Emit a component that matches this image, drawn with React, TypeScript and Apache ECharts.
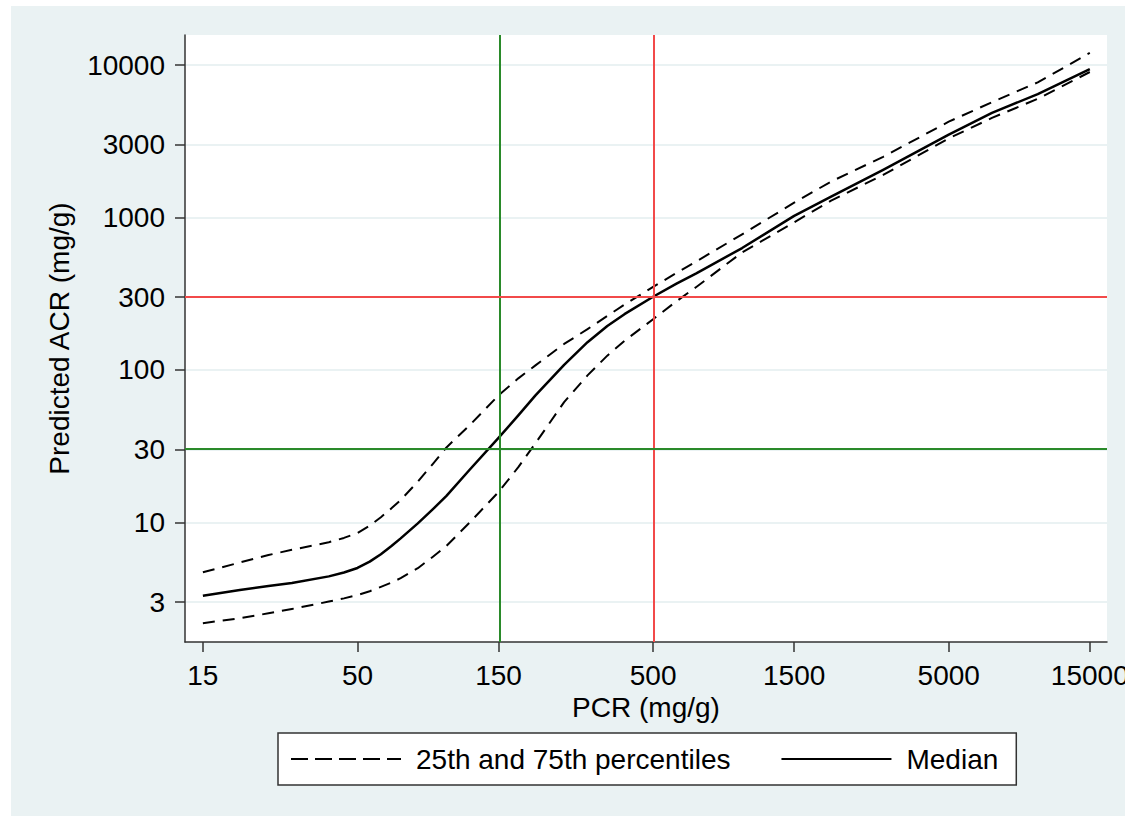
import React, { useEffect, useRef } from "react";
import * as echarts from "echarts";

// PCR (mg/g) sample points along the fitted curves
const pcr = [15, 20, 25, 30, 40, 45, 50, 55, 60, 65, 70, 80, 90, 100, 120, 150, 175, 200, 250, 300, 350, 400, 500, 600, 700, 1000, 1500, 2000, 3000, 5000, 7000, 10000, 15000];
// Predicted ACR (mg/g)
const acrMedian = [3.3, 3.6, 3.82, 4.0, 4.42, 4.69, 5.02, 5.52, 6.18, 6.97, 7.85, 9.85, 12.2, 14.9, 22.2, 35.8, 50.3, 68, 108, 152, 194, 232, 302, 368, 430, 630, 1025, 1370, 2050, 3500, 4850, 6450, 9400];
const acrP75 = [4.7, 5.45, 6.1, 6.6, 7.4, 7.9, 8.5, 9.5, 10.8, 12.3, 14.0, 18.5, 24.2, 31, 43.5, 68, 88, 107, 148, 185, 226, 268, 350, 433, 515, 775, 1250, 1720, 2500, 4250, 5700, 7700, 12000];
const acrP25 = [2.18, 2.35, 2.53, 2.7, 3.02, 3.17, 3.33, 3.53, 3.77, 4.02, 4.3, 5.0, 5.95, 7.0, 10.0, 15.8, 23, 33, 61.5, 92, 124, 155, 215, 282, 350, 590, 930, 1290, 1900, 3300, 4500, 6000, 9000];

const xTicks = [15, 50, 150, 500, 1500, 5000, 15000];
const yTicks = [3, 10, 30, 100, 300, 1000, 3000, 10000];

// thresholds marked on the plot
const pcrCutLow = 150;
const pcrCutHigh = 500;
const acrCutLow = 30;
const acrCutHigh = 300;

const xRange = [13.05, 17150];
const yRange = [1.64, 15740];

const seriesPercentiles = "25th and 75th percentiles";
const seriesMedian = "Median";

const lg = Math.log10;
const toPairs = (ys: number[]) => pcr.map((x, i) => [lg(x), lg(ys[i])]);
const fmt = (v: number) => String(Math.round(Math.pow(10, v)));

const PANEL = "#eaf2f3";
const AXIS = "#333333";
const GREEN = "#2a8a2a";
const RED = "#f24a4a";
const FONT = "'Liberation Sans', Arial, sans-serif";
const FS = 28;

export default function App() {
  const ref = useRef<HTMLDivElement>(null);

  useEffect(() => {
    if (!ref.current) return;
    const chart = echarts.init(ref.current, undefined, { renderer: "svg" });

    const curve = (name: string, ys: number[], dashed: boolean) => ({
      name,
      type: "line",
      data: toPairs(ys),
      symbol: "none",
      z: 3,
      itemStyle: { color: "#000" },
      lineStyle: {
        color: "#000",
        width: dashed ? 2 : 2.5,
        type: dashed ? [12, 8] : "solid",
        join: "round",
      },
    });

    chart.setOption({
      animation: false,
      backgroundColor: PANEL,
      textStyle: { fontFamily: FONT },
      graphic: [
        { type: "rect", left: 0, top: 0, shape: { width: 1125, height: 6 }, style: { fill: "#fff" }, silent: true },
        { type: "rect", left: 0, top: 0, shape: { width: 11, height: 816 }, style: { fill: "#fff" }, silent: true },
      ],
      grid: {
        left: 185,
        right: 18,
        top: 35,
        bottom: 174,
        show: true,
        backgroundColor: "#fff",
        borderWidth: 0,
        containLabel: false,
        outerBoundsMode: "none",
      },
      legend: {
        left: 278,
        top: 733,
        orient: "horizontal",
        padding: [12, 18, 12, 12],
        backgroundColor: "#fff",
        borderColor: AXIS,
        borderWidth: 1.5,
        borderRadius: 0,
        itemWidth: 110,
        itemHeight: 14,
        itemGap: 50,
        selectedMode: false,
        itemStyle: { opacity: 0 },
        textStyle: { fontSize: FS, color: "#000", fontFamily: FONT, padding: [0, 0, 0, 10] },
        data: [
          { name: seriesPercentiles, lineStyle: { type: [17, 7], width: 2, color: "#000" } },
          { name: seriesMedian },
        ],
      },
      xAxis: {
        type: "value",
        min: lg(xRange[0]),
        max: lg(xRange[1]),
        name: "PCR (mg/g)",
        nameLocation: "middle",
        nameGap: 38,
        nameTextStyle: { fontSize: FS, color: "#000", fontFamily: FONT },
        axisLine: { show: true, onZero: false, lineStyle: { color: AXIS, width: 1.5 } },
        axisTick: { show: true, length: 10, customValues: xTicks.map(lg), lineStyle: { color: AXIS, width: 1.5 } },
        axisLabel: { customValues: xTicks.map(lg), formatter: fmt, fontSize: FS, color: "#000", margin: 19, fontFamily: FONT },
        splitLine: { show: false },
      },
      yAxis: {
        type: "value",
        min: lg(yRange[0]),
        max: lg(yRange[1]),
        name: "Predicted ACR (mg/g)",
        nameLocation: "middle",
        nameGap: 112,
        nameTextStyle: { fontSize: FS, color: "#000", fontFamily: FONT },
        axisLine: { show: true, onZero: false, lineStyle: { color: AXIS, width: 1.5 } },
        axisTick: { show: true, length: 10, customValues: yTicks.map(lg), lineStyle: { color: AXIS, width: 1.5 } },
        axisLabel: { customValues: yTicks.map(lg), formatter: fmt, fontSize: FS, color: "#000", margin: 20, fontFamily: FONT },
        splitLine: { show: true, lineStyle: { color: PANEL, width: 2 } },
      },
      series: [
        {
          name: "thresholds",
          type: "line",
          data: [],
          z: 2,
          markLine: {
            silent: true,
            symbol: "none",
            label: { show: false },
            lineStyle: { type: "solid", width: 2 },
            data: [
              { xAxis: lg(pcrCutLow), lineStyle: { color: GREEN, type: "solid", width: 2 } },
              { xAxis: lg(pcrCutHigh), lineStyle: { color: RED, type: "solid", width: 2 } },
              { yAxis: lg(acrCutHigh), lineStyle: { color: RED, type: "solid", width: 2 } },
              { yAxis: lg(acrCutLow), lineStyle: { color: GREEN, type: "solid", width: 2 } },
            ],
          },
        },
        curve(seriesPercentiles, acrP75, true),
        curve(seriesMedian, acrMedian, false),
        curve(seriesPercentiles, acrP25, true),
      ],
    });

    return () => chart.dispose();
  }, []);

  return (
    <div
      ref={ref}
      style={{ position: "fixed", left: 0, top: 0, width: 1125, height: 816 }}
    />
  );
}
